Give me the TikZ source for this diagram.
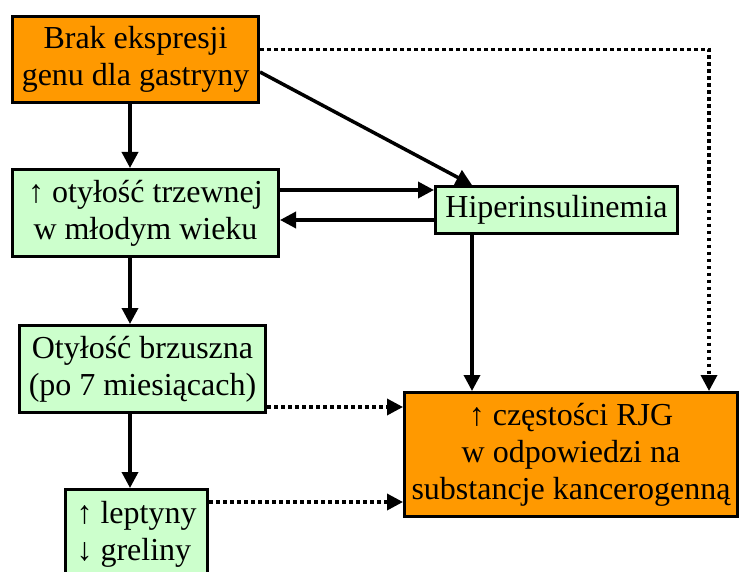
\documentclass[tikz,border=0pt]{standalone}
\usepackage{fontspec}
\setmainfont{Liberation Serif}
\usetikzlibrary{arrows.meta,positioning}
\definecolor{orangebox}{HTML}{FF9900}
\definecolor{greenbox}{HTML}{CCFFCC}

\begin{document}
\begin{tikzpicture}[x=1pt,y=-1pt,
  box/.style={draw,line width=3pt,inner sep=0pt,align=center,font=\rmfamily\fontsize{32}{37}\selectfont},
  orangeb/.style={box,fill=orangebox},greenb/.style={box,fill=greenbox},
  arr/.style={line width=3.5pt,-{Triangle[length=16pt,width=16pt]}},
  dotarr/.style={arr,dash pattern=on 3.5pt off 3.5pt}]
\useasboundingbox (0,0) rectangle (741,572);
\node[orangeb,minimum width=246,minimum height=86] (gastryna) at (135.5,59.5){Brak ekspresji\\genu dla gastryny};
\node[greenb,minimum width=266,minimum height=87] (trzewna) at (145.5,213){↑ otyłość trzewnej\\w młodym wieku};
\node[greenb,minimum width=246,minimum height=87] (brzuszna) at (142.5,369){Otyłość brzuszna\\(po 7 miesiącach)};
\node[greenb,minimum width=142,minimum height=89,align=left] (leptyna) at (136.5,534){↑ leptyny\\↓ greliny};
\node[greenb,minimum width=242,minimum height=47] (hiperins) at (556.5,210){Hiperinsulinemia};
\node[orangeb,minimum width=333,minimum height=124] (rjg) at (571,454.5){↑ częstości RJG\\w odpowiedzi na\\substancje kancerogenną};
\coordinate (spine) at (130,0);\coordinate (insx) at (472,0);\coordinate (drop) at (709,0);
\draw[arr] (spine |- gastryna.south) -- (spine |- trzewna.north);
\draw[arr] (spine |- trzewna.south) -- (spine |- brzuszna.north);
\draw[arr] (spine |- brzuszna.south) -- (spine |- leptyna.north);
\draw[arr] ([yshift=-12.5pt]gastryna.east) -- (insx |- hiperins.north);
\draw[arr] ([yshift=23pt]trzewna.east) -- ([yshift=23pt]trzewna.east -| hiperins.west);
\draw[arr] ([yshift=-7pt]trzewna.east -| hiperins.west) -- ([yshift=-7pt]trzewna.east);
\draw[arr] (insx |- hiperins.south) -- (insx |- rjg.north);
\draw[dotarr] ([yshift=10pt]gastryna.east) -| (drop |- rjg.north);
\draw[dotarr] ([yshift=-38pt]brzuszna.east) -- ([yshift=-38pt]brzuszna.east -| rjg.west);
\draw[dotarr] ([yshift=32pt]leptyna.east) -- ([yshift=32pt]leptyna.east -| rjg.west);
\end{tikzpicture}
\end{document}
